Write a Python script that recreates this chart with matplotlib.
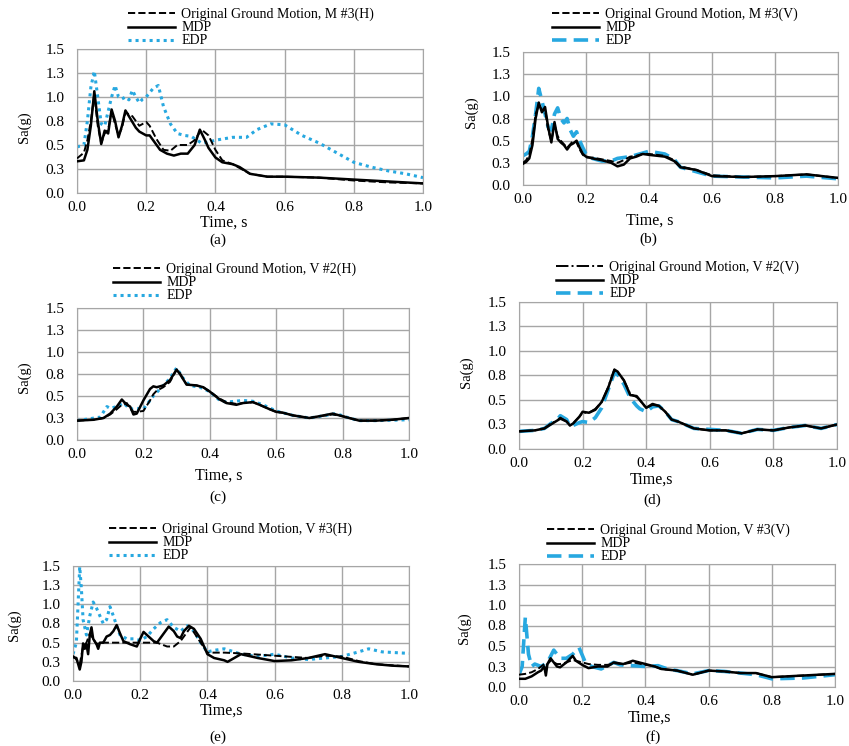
import matplotlib.pyplot as plt

plt.rcParams['font.family'] = ['Liberation Serif', 'DejaVu Serif']

W, H = 849, 746
BLUE = '#27A8E0'
GRID = '#a6a6a6'

# ---- data ----
# (a) M #3(H)
t_a_mdp = [0.00, 0.02, 0.03, 0.04, 0.05, 0.06, 0.07, 0.08, 0.09, 0.10, 0.11, 0.12, 0.13, 0.14, 0.15, 0.16,
           0.17, 0.18, 0.20, 0.21, 0.22, 0.24, 0.26, 0.28, 0.30, 0.32, 0.34, 0.355, 0.37, 0.38, 0.40, 0.42,
           0.45, 0.47, 0.50, 0.55, 0.60, 0.70, 0.80, 0.90, 1.00]
mdp_a = [0.33, 0.34, 0.45, 0.70, 1.06, 0.75, 0.51, 0.65, 0.62, 0.87, 0.75, 0.58, 0.70, 0.86, 0.80, 0.74,
         0.68, 0.64, 0.60, 0.60, 0.55, 0.45, 0.41, 0.39, 0.41, 0.41, 0.50, 0.66, 0.55, 0.47, 0.37, 0.32,
         0.30, 0.27, 0.20, 0.17, 0.17, 0.16, 0.14, 0.12, 0.10]
t_a_orig = [0.00, 0.02, 0.03, 0.04, 0.05, 0.06, 0.07, 0.08, 0.09, 0.10, 0.11, 0.12, 0.13, 0.14, 0.16, 0.18,
            0.20, 0.21, 0.23, 0.25, 0.27, 0.29, 0.32, 0.34, 0.36, 0.38, 0.40, 0.42, 0.45, 0.50, 0.55, 0.60,
            0.70, 0.80, 0.90, 1.00]
orig_a = [0.36, 0.42, 0.55, 0.75, 1.02, 0.70, 0.52, 0.62, 0.66, 0.85, 0.72, 0.60, 0.68, 0.84, 0.80, 0.70,
          0.74, 0.70, 0.56, 0.45, 0.44, 0.50, 0.50, 0.55, 0.66, 0.60, 0.45, 0.34, 0.30, 0.20, 0.17, 0.17,
          0.16, 0.13, 0.11, 0.10]
t_a_edp = [0.00, 0.02, 0.03, 0.04, 0.05, 0.06, 0.07, 0.08, 0.09, 0.10, 0.11, 0.12, 0.13, 0.14, 0.15, 0.16,
           0.17, 0.18, 0.19, 0.20, 0.22, 0.235, 0.25, 0.27, 0.29, 0.31, 0.33, 0.36, 0.38, 0.40, 0.45, 0.49,
           0.52, 0.56, 0.60, 0.65, 0.70, 0.75, 0.80, 0.85, 0.90, 0.95, 1.00]
edp_a = [0.48, 0.50, 0.75, 1.10, 1.27, 1.00, 0.72, 0.70, 0.85, 1.00, 1.12, 1.00, 0.98, 1.00, 0.97, 1.07,
         1.00, 0.94, 0.98, 1.00, 1.09, 1.12, 0.90, 0.72, 0.62, 0.60, 0.59, 0.52, 0.53, 0.55, 0.58, 0.58,
         0.66, 0.72, 0.71, 0.60, 0.52, 0.42, 0.32, 0.27, 0.23, 0.20, 0.16]

# (b) M #3(V)
t_b = [0.00, 0.01, 0.02, 0.03, 0.04, 0.05, 0.06, 0.07, 0.08, 0.09, 0.10, 0.11, 0.12, 0.13, 0.14, 0.15,
       0.16, 0.17, 0.18, 0.19, 0.20, 0.22, 0.25, 0.28, 0.30, 0.32, 0.34, 0.36, 0.38, 0.40, 0.45, 0.48,
       0.50, 0.55, 0.60, 0.70, 0.80, 0.90, 1.00]
mdp_b = [0.24, 0.26, 0.30, 0.45, 0.75, 0.93, 0.82, 0.88, 0.65, 0.48, 0.71, 0.52, 0.48, 0.45, 0.40, 0.45,
         0.47, 0.50, 0.42, 0.35, 0.32, 0.30, 0.28, 0.25, 0.21, 0.23, 0.30, 0.32, 0.35, 0.34, 0.32, 0.27,
         0.20, 0.17, 0.10, 0.09, 0.10, 0.12, 0.08]
orig_b = [0.25, 0.28, 0.34, 0.52, 0.80, 0.90, 0.85, 0.84, 0.62, 0.50, 0.68, 0.55, 0.50, 0.46, 0.42, 0.46,
          0.50, 0.48, 0.40, 0.34, 0.31, 0.31, 0.29, 0.27, 0.25, 0.28, 0.32, 0.33, 0.35, 0.35, 0.33, 0.28,
          0.21, 0.17, 0.11, 0.09, 0.10, 0.12, 0.08]
edp_b = [0.33, 0.35, 0.38, 0.55, 0.80, 1.09, 0.95, 0.80, 0.65, 0.62, 0.80, 0.87, 0.75, 0.70, 0.75, 0.62,
         0.55, 0.60, 0.50, 0.42, 0.35, 0.30, 0.27, 0.27, 0.30, 0.31, 0.32, 0.34, 0.36, 0.38, 0.35, 0.29,
         0.20, 0.15, 0.10, 0.09, 0.08, 0.10, 0.07]

# (c) V #2(H)
t_c = [0.00, 0.05, 0.08, 0.10, 0.12, 0.135, 0.15, 0.16, 0.17, 0.18, 0.20, 0.22, 0.23, 0.24, 0.26, 0.28,
       0.30, 0.31, 0.33, 0.36, 0.38, 0.40, 0.43, 0.45, 0.48, 0.50, 0.53, 0.55, 0.58, 0.60, 0.62, 0.65,
       0.70, 0.73, 0.77, 0.80, 0.85, 0.90, 0.95, 1.00]
mdp_c = [0.22, 0.23, 0.25, 0.30, 0.38, 0.46, 0.40, 0.38, 0.29, 0.30, 0.45, 0.58, 0.61, 0.60, 0.62, 0.68,
         0.80, 0.75, 0.63, 0.62, 0.60, 0.55, 0.46, 0.42, 0.40, 0.42, 0.43, 0.40, 0.35, 0.32, 0.31, 0.28,
         0.25, 0.27, 0.30, 0.27, 0.22, 0.22, 0.23, 0.25]
orig_c = [0.22, 0.23, 0.25, 0.29, 0.35, 0.40, 0.42, 0.36, 0.32, 0.32, 0.33, 0.45, 0.52, 0.56, 0.60, 0.66,
          0.80, 0.76, 0.63, 0.62, 0.60, 0.55, 0.47, 0.43, 0.41, 0.42, 0.43, 0.40, 0.35, 0.32, 0.31, 0.28,
          0.25, 0.27, 0.29, 0.27, 0.22, 0.22, 0.23, 0.25]
t_c_edp = [0.00, 0.07, 0.08, 0.09, 0.10, 0.12, 0.14, 0.16, 0.18, 0.20, 0.21, 0.23, 0.25, 0.28, 0.30, 0.32,
           0.34, 0.37, 0.40, 0.43, 0.45, 0.50, 0.53, 0.56, 0.60, 0.65, 0.70, 0.75, 0.78, 0.82, 0.85, 0.90,
           1.00]
edp_c = [0.22, 0.26, 0.32, 0.38, 0.36, 0.38, 0.42, 0.35, 0.36, 0.35, 0.40, 0.50, 0.58, 0.70, 0.82, 0.70,
         0.62, 0.60, 0.55, 0.45, 0.43, 0.45, 0.44, 0.40, 0.33, 0.28, 0.25, 0.28, 0.30, 0.25, 0.22, 0.22,
         0.23]

# (d) V #2(V)
t_d = [0.00, 0.05, 0.08, 0.10, 0.12, 0.13, 0.15, 0.16, 0.17, 0.19, 0.20, 0.22, 0.24, 0.26, 0.28, 0.30,
       0.31, 0.33, 0.35, 0.37, 0.38, 0.40, 0.42, 0.44, 0.46, 0.48, 0.50, 0.55, 0.60, 0.65, 0.70, 0.75,
       0.80, 0.85, 0.90, 0.95, 1.00]
mdp_d = [0.18, 0.19, 0.21, 0.25, 0.29, 0.31, 0.28, 0.24, 0.26, 0.33, 0.38, 0.37, 0.40, 0.48, 0.62, 0.81,
         0.79, 0.70, 0.55, 0.54, 0.50, 0.42, 0.46, 0.44, 0.38, 0.30, 0.28, 0.21, 0.19, 0.19, 0.16, 0.20,
         0.19, 0.22, 0.24, 0.21, 0.25]
orig_d = [0.18, 0.19, 0.21, 0.26, 0.29, 0.32, 0.28, 0.24, 0.26, 0.33, 0.37, 0.37, 0.41, 0.48, 0.63, 0.81,
          0.78, 0.70, 0.56, 0.53, 0.50, 0.42, 0.45, 0.44, 0.38, 0.30, 0.28, 0.21, 0.19, 0.19, 0.16, 0.20,
          0.19, 0.22, 0.24, 0.21, 0.25]
edp_d = [0.18, 0.19, 0.21, 0.26, 0.30, 0.34, 0.30, 0.23, 0.24, 0.27, 0.28, 0.27, 0.32, 0.42, 0.60, 0.78,
         0.76, 0.66, 0.52, 0.44, 0.41, 0.38, 0.43, 0.44, 0.38, 0.30, 0.28, 0.21, 0.20, 0.19, 0.16, 0.20,
         0.19, 0.22, 0.24, 0.21, 0.25]

# (e) V #3(H)
t_e = [0.00, 0.01, 0.02, 0.025, 0.03, 0.035, 0.04, 0.045, 0.05, 0.055, 0.06, 0.07, 0.075, 0.08, 0.09, 0.10,
       0.11, 0.12, 0.13, 0.14, 0.15, 0.17, 0.19, 0.20, 0.21, 0.22, 0.24, 0.25, 0.27, 0.285, 0.30, 0.31,
       0.32, 0.33, 0.345, 0.36, 0.38, 0.39, 0.40, 0.42, 0.45, 0.46, 0.48, 0.50, 0.55, 0.60, 0.65, 0.70,
       0.75, 0.80, 0.85, 0.90, 0.95, 1.00]
mdp_e = [0.31, 0.30, 0.15, 0.25, 0.49, 0.42, 0.48, 0.35, 0.60, 0.70, 0.55, 0.48, 0.42, 0.50, 0.50, 0.58,
         0.60, 0.65, 0.73, 0.62, 0.52, 0.48, 0.45, 0.55, 0.64, 0.60, 0.52, 0.50, 0.62, 0.71, 0.65, 0.58,
         0.56, 0.65, 0.72, 0.68, 0.55, 0.45, 0.35, 0.30, 0.27, 0.25, 0.30, 0.35, 0.30, 0.26, 0.27, 0.30,
         0.35, 0.30, 0.25, 0.22, 0.20, 0.19]
t_e_orig = [0.00, 0.01, 0.02, 0.03, 0.04, 0.05, 0.06, 0.07, 0.08, 0.10, 0.15, 0.20, 0.25, 0.28, 0.30, 0.32,
            0.35, 0.38, 0.40, 0.45, 0.50, 0.60, 0.70, 0.75, 0.80, 0.85, 0.90, 1.00]
orig_e = [0.33, 0.28, 0.22, 0.45, 0.50, 0.62, 0.55, 0.48, 0.50, 0.50, 0.50, 0.50, 0.50, 0.45, 0.45, 0.52,
          0.70, 0.50, 0.37, 0.37, 0.36, 0.33, 0.30, 0.33, 0.32, 0.26, 0.22, 0.19]
t_e_edp = [0.00, 0.01, 0.02, 0.025, 0.03, 0.04, 0.05, 0.06, 0.07, 0.08, 0.09, 0.10, 0.11, 0.12, 0.13, 0.14,
           0.16, 0.18, 0.20, 0.22, 0.24, 0.26, 0.28, 0.30, 0.32, 0.34, 0.36, 0.38, 0.40, 0.42, 0.45, 0.48,
           0.50, 0.55, 0.60, 0.65, 0.70, 0.75, 0.80, 0.85, 0.88, 0.92, 1.00]
edp_e = [0.35, 0.50, 1.49, 1.20, 0.80, 0.60, 0.85, 1.03, 0.95, 0.85, 0.75, 0.80, 0.97, 0.85, 0.72, 0.60,
         0.55, 0.55, 0.53, 0.58, 0.68, 0.76, 0.80, 0.70, 0.65, 0.72, 0.65, 0.50, 0.38, 0.40, 0.42, 0.38,
         0.35, 0.32, 0.35, 0.30, 0.28, 0.30, 0.32, 0.38, 0.42, 0.38, 0.36]

# (f) V #3(V)
t_f = [0.00, 0.02, 0.04, 0.06, 0.07, 0.08, 0.085, 0.09, 0.10, 0.11, 0.12, 0.13, 0.15, 0.17, 0.18, 0.20,
       0.22, 0.25, 0.28, 0.30, 0.33, 0.36, 0.40, 0.43, 0.45, 0.50, 0.55, 0.60, 0.65, 0.70, 0.75, 0.80,
       0.85, 0.90, 1.00]
mdp_f = [0.10, 0.10, 0.13, 0.18, 0.20, 0.25, 0.14, 0.28, 0.35, 0.30, 0.25, 0.24, 0.30, 0.38, 0.32, 0.27,
         0.23, 0.25, 0.25, 0.30, 0.28, 0.32, 0.28, 0.25, 0.22, 0.20, 0.15, 0.20, 0.19, 0.17, 0.17, 0.12,
         0.13, 0.14, 0.16]
orig_f = [0.15, 0.16, 0.18, 0.22, 0.25, 0.28, 0.26, 0.28, 0.32, 0.30, 0.28, 0.28, 0.30, 0.33, 0.32, 0.30,
          0.28, 0.27, 0.27, 0.29, 0.28, 0.30, 0.27, 0.25, 0.22, 0.20, 0.15, 0.20, 0.19, 0.17, 0.17, 0.12,
          0.13, 0.14, 0.16]
t_f_edp = [0.00, 0.01, 0.02, 0.03, 0.04, 0.05, 0.07, 0.09, 0.11, 0.13, 0.15, 0.17, 0.19, 0.21, 0.23, 0.26,
           0.30, 0.32, 0.36, 0.40, 0.44, 0.47, 0.50, 0.55, 0.60, 0.65, 0.70, 0.75, 0.80, 0.90, 1.00]
edp_f = [0.15, 0.25, 0.85, 0.40, 0.25, 0.28, 0.25, 0.30, 0.45, 0.35, 0.35, 0.40, 0.48, 0.30, 0.25, 0.22,
         0.30, 0.27, 0.26, 0.25, 0.26, 0.22, 0.20, 0.16, 0.20, 0.19, 0.17, 0.15, 0.10, 0.11, 0.15]

x_ticks = [0.0, 0.2, 0.4, 0.6, 0.8, 1.0]
x_labels = ['0.0', '0.2', '0.4', '0.6', '0.8', '1.0']
y_ticks = [0.0, 0.25, 0.5, 0.75, 1.0, 1.25, 1.5]
y_labels = ['0.0', '0.3', '0.5', '0.8', '1.0', '1.3', '1.5']

fig = plt.figure(figsize=(W / 100, H / 100), dpi=100)


def fx(x):
    return x / W


def fy(y):
    return 1 - y / H


def panel(box, series, leg_xy, ylab_xy, xlab, xlab_xy, tag, tag_xy):
    l, t, r, b = box
    ax = fig.add_axes([fx(l), fy(b), (r - l) / W, (b - t) / H])
    for x, y, kw in series:
        ax.plot(x, y, **kw)
    ax.set_xlim(0, 1)
    ax.set_ylim(0, 1.5)
    ax.set_xticks(x_ticks, x_labels)
    ax.set_yticks(y_ticks, y_labels)
    ax.grid(True, color=GRID, lw=1)
    ax.set_axisbelow(True)
    for s in ax.spines.values():
        s.set_color(GRID)
    ax.tick_params(length=0, labelsize=11)
    ax.tick_params(axis='y', pad=9)
    ax.tick_params(axis='x', pad=6)
    ax.legend(loc='upper left', bbox_to_anchor=(fx(leg_xy[0]), fy(leg_xy[1])),
              bbox_transform=fig.transFigure, frameon=False, fontsize=10,
              handlelength=3.4, handletextpad=0.45, labelspacing=0.0,
              borderpad=0, borderaxespad=0)
    fig.text(fx(ylab_xy[0]), fy(ylab_xy[1]), 'Sa(g)', rotation=90, fontsize=10.5,
             ha='center', va='center')
    fig.text(fx(xlab_xy[0]), fy(xlab_xy[1]), xlab, fontsize=11.5, ha='center', va='center')
    fig.text(fx(tag_xy[0]), fy(tag_xy[1]), tag, fontsize=11, ha='center', va='center')
    return ax


def orig_kw(name, ls='--'):
    return dict(color='black', lw=1.4, ls=ls, label='Original Ground Motion, ' + name, zorder=3)


mdp_kw = dict(color='black', lw=1.8, ls='-', label='MDP', zorder=4)
edp_dot = dict(color=BLUE, lw=2.2, ls=(0, (1, 1.3)), label='EDP', zorder=2)
edp_dash = dict(color=BLUE, lw=2.6, ls=(0, (4, 2)), label='EDP', zorder=2)

panel((77, 49, 423, 193),
      [(t_a_orig, orig_a, orig_kw('M #3(H)')), (t_a_mdp, mdp_a, mdp_kw), (t_a_edp, edp_a, edp_dot)],
      (128, 8), (24, 127), 'Time, s', (224, 223), '(a)', (218, 240))
panel((523, 52, 838, 185),
      [(t_b, orig_b, orig_kw('M #3(V)')), (t_b, mdp_b, mdp_kw), (t_b, edp_b, edp_dash)],
      (552, 8), (471, 112), 'Time, s', (650, 221), '(b)', (648, 239))
panel((77, 308, 409, 440),
      [(t_c, orig_c, orig_kw('V #2(H)')), (t_c, mdp_c, mdp_kw), (t_c_edp, edp_c, edp_dot)],
      (113, 263), (24, 377), 'Time, s', (219, 476), '(c)', (218, 497))
panel((519, 302, 837, 449),
      [(t_d, orig_d, orig_kw('V #2(V)', '-.')), (t_d, mdp_d, mdp_kw), (t_d, edp_d, edp_dash)],
      (556, 261), (466, 372), 'Time,s', (651, 480), '(d)', (652, 500))
panel((73, 566, 409, 681),
      [(t_e_orig, orig_e, orig_kw('V #3(H)')), (t_e, mdp_e, mdp_kw), (t_e_edp, edp_e, edp_dot)],
      (109, 523), (14, 625), 'Time,s', (221, 711), '(e)', (218, 737))
panel((519, 564, 835, 687),
      [(t_f, orig_f, orig_kw('V #3(V)')), (t_f, mdp_f, mdp_kw), (t_f_edp, edp_f, edp_dash)],
      (547, 524), (464, 628), 'Time,s', (649, 718), '(f)', (653, 737))

fig.savefig('out.png', dpi=100)
